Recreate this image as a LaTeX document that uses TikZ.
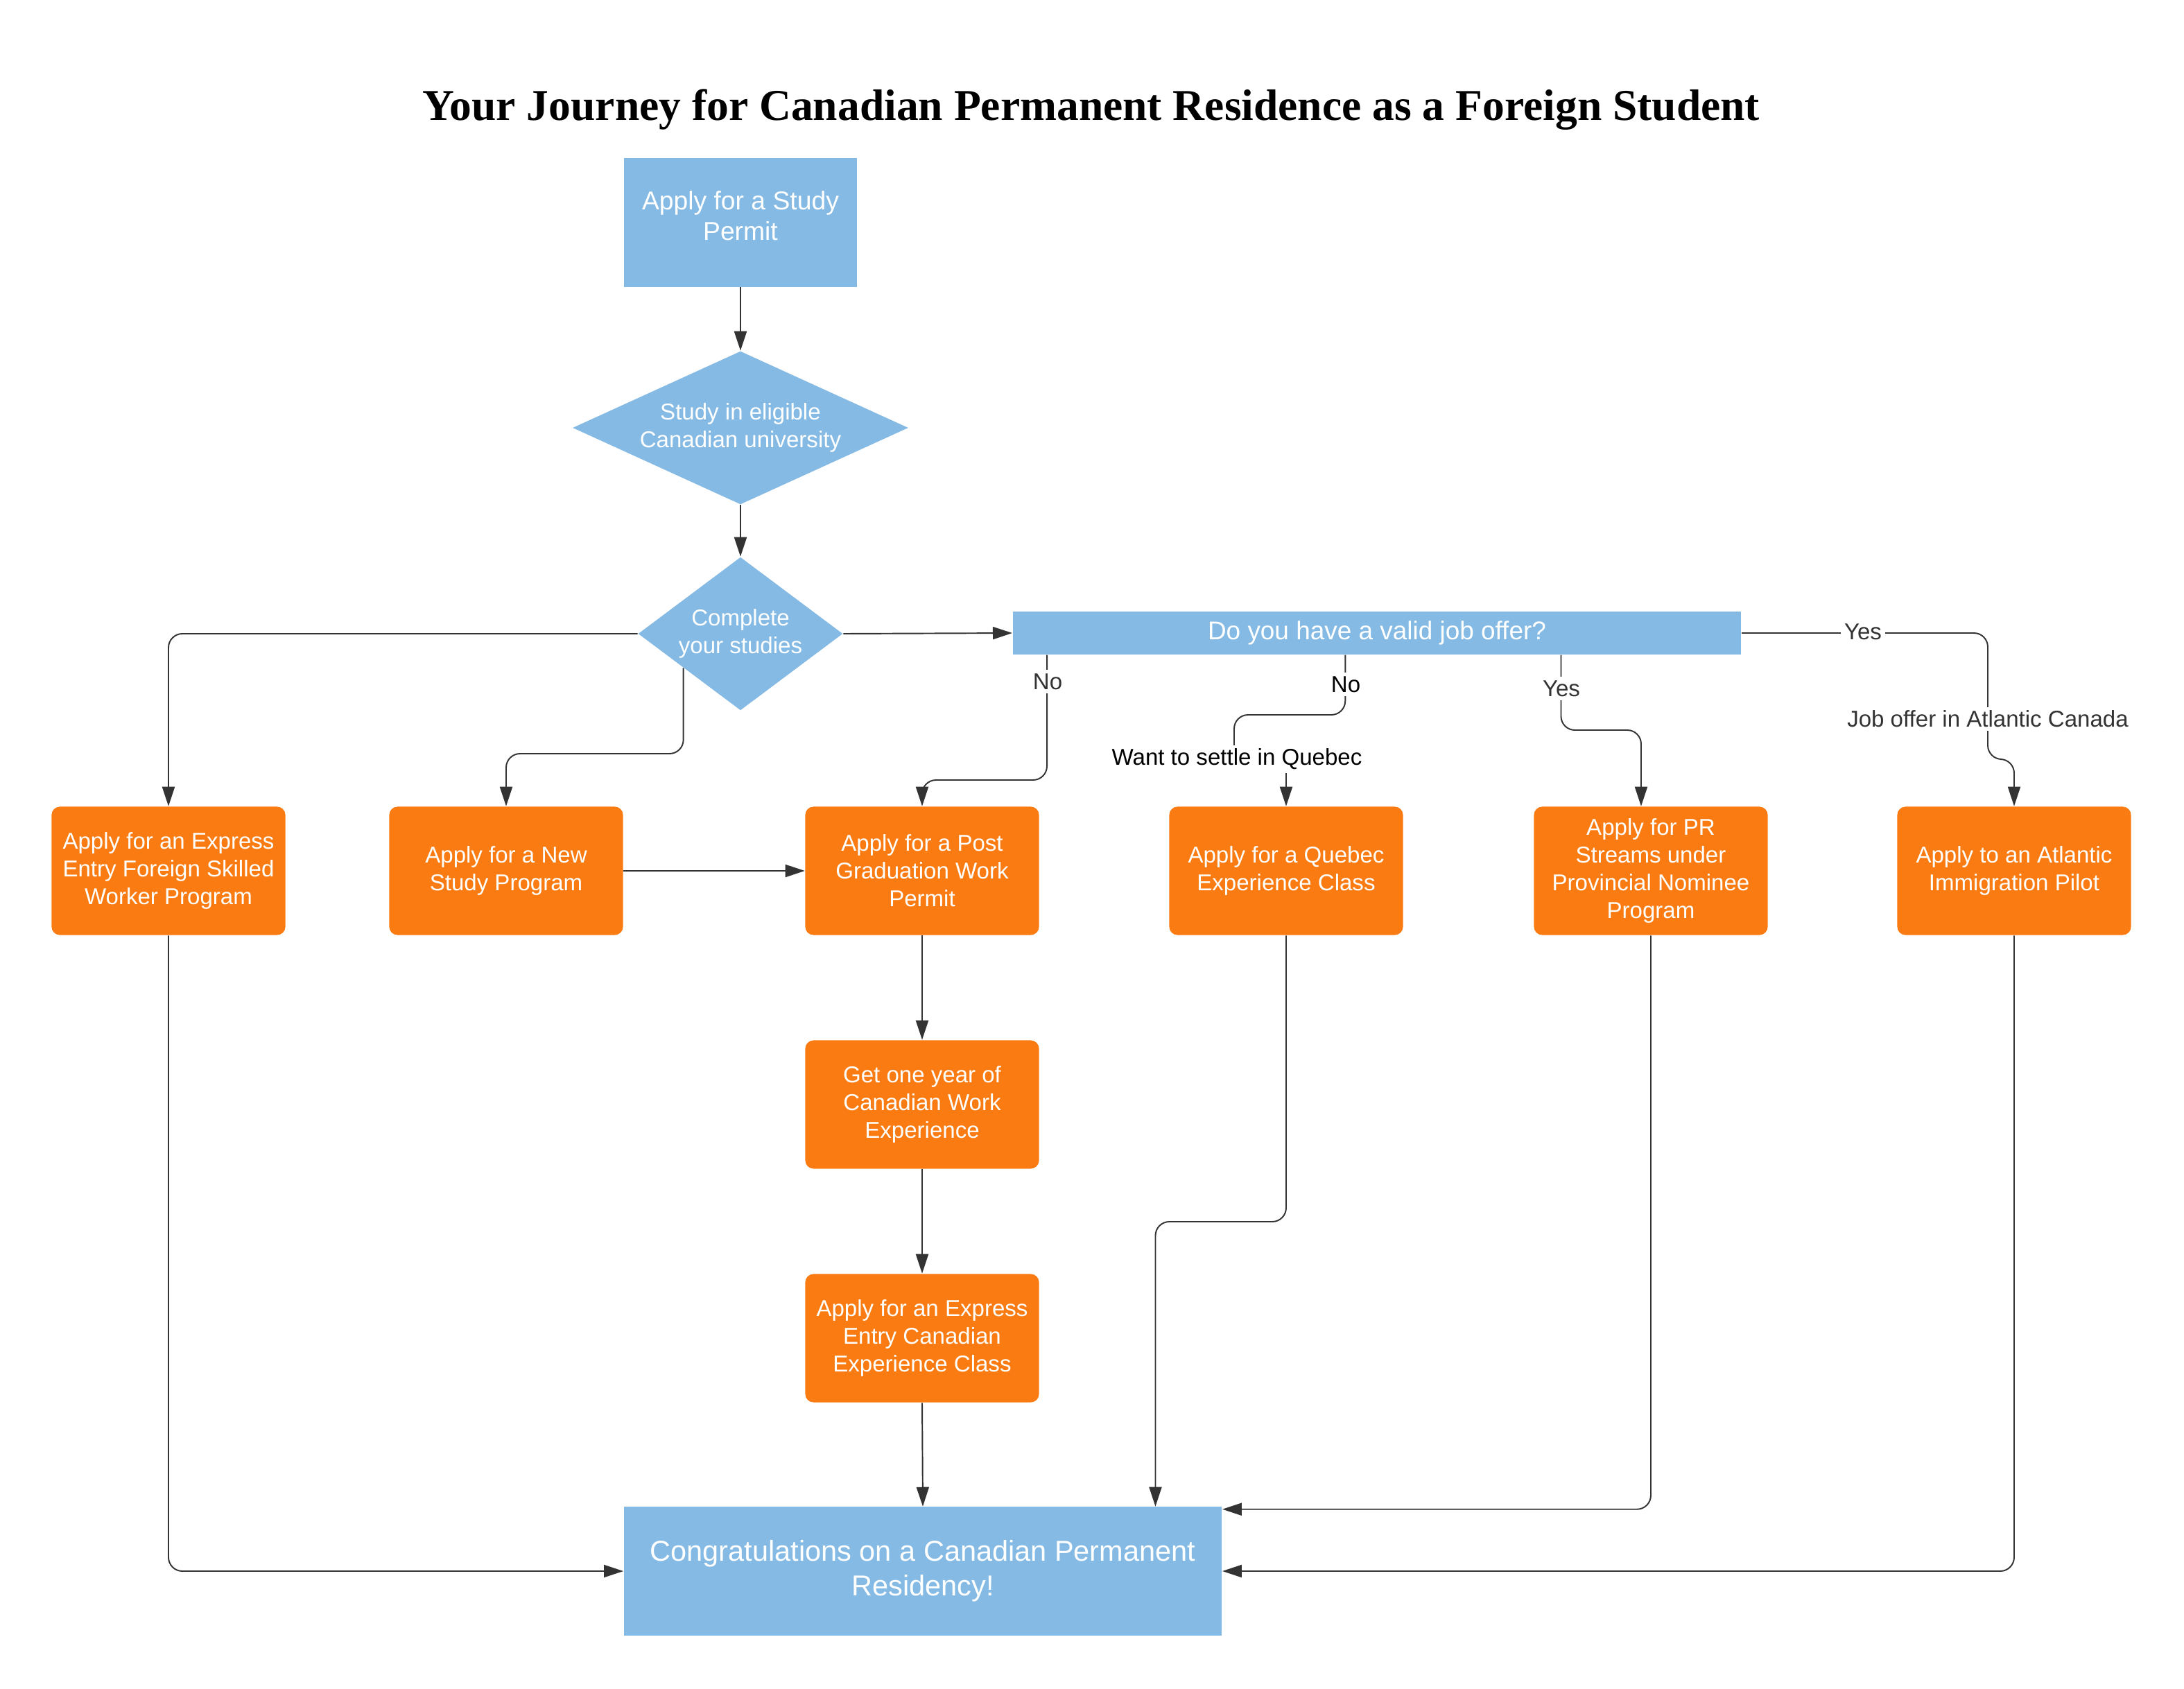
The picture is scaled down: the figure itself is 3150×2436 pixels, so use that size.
\documentclass[tikz,border=0pt]{standalone}
\usepackage{fontspec}
\usepackage{graphicx}
\setmainfont{Liberation Sans}
\newfontfamily\titlefont{Liberation Serif}
\usetikzlibrary{shapes.geometric,arrows.meta,calc}
\definecolor{lblue}{RGB}{132,186,228}
\definecolor{orng}{RGB}{249,123,18}
\definecolor{lineg}{RGB}{51,51,51}
\begin{document}
\begin{tikzpicture}[x=0.01cm,y=-0.01cm,
  bluebox/.style={rectangle, fill=lblue, text=white, inner sep=0pt, align=center},
  orgbox/.style={rectangle, rounded corners=0.12cm, fill=orng, text=white,
    minimum width=3.37cm, minimum height=1.85cm, inner sep=0pt, align=center,
    font=\fontsize{9.4}{11.4}\selectfont},
  dia/.style={diamond, fill=lblue, text=white, inner sep=0pt, align=center,
    font=\fontsize{9.4}{11.4}\selectfont},
  conn/.style={draw=lineg, line width=0.55pt, rounded corners=0.2cm,
    -{Triangle[length=0.28cm,width=0.18cm]}},
  lbl/.style={fill=white, text=lineg, inner sep=1.5pt, font=\fontsize{9.4}{11}\selectfont}
]
\fill[white] (0,0) rectangle (3150,2436);
\useasboundingbox (0,0) rectangle (3150,2436);

% title
\node[anchor=base, font=\titlefont\bfseries\fontsize{20}{24}\selectfont] (title) at (1574,173)
  {\resizebox{19.27cm}{!}{Your Journey for Canadian Permanent Residence as a Foreign Student}};

% nodes
\node[bluebox, minimum width=3.36cm, minimum height=1.85cm, font=\fontsize{10.6}{12.5}\selectfont] (sp) at (1068,321) {Apply for a Study\\Permit\\[-0.24cm]\mbox{}};
\node[dia, shape aspect=2.19, minimum width=4.84cm, minimum height=2.21cm] (d1) at (1068,617) {Study in eligible\\Canadian university};
\node[dia, shape aspect=1.335, minimum width=2.95cm, minimum height=2.21cm] (d2) at (1068,914) {Complete\\your studies};
\node[bluebox, minimum width=10.5cm, minimum height=0.62cm, font=\fontsize{10.5}{12}\selectfont] (job) at (1986,913) {Do you have a valid job offer?};

\node[orgbox] (b1) at (243,1256) {Apply for an Express\\Entry Foreign Skilled\\Worker Program};
\node[orgbox] (b2) at (730,1256) {Apply for a New\\Study Program};
\node[orgbox] (b3) at (1330,1256) {Apply for a Post\\Graduation Work\\Permit};
\node[orgbox] (b4) at (1855,1256) {Apply for a Quebec\\Experience Class};
\node[orgbox] (b5) at (2381,1256) {Apply for PR\\Streams under\\Provincial Nominee\\Program};
\node[orgbox] (b6) at (2905,1256) {Apply to an Atlantic\\Immigration Pilot};
\node[orgbox] (b7) at (1330,1593) {Get one year of\\Canadian Work\\Experience};
\node[orgbox] (b8) at (1330,1930) {Apply for an Express\\Entry Canadian\\Experience Class};
\node[bluebox, minimum width=8.62cm, minimum height=1.85cm, font=\fontsize{11.8}{14.2}\selectfont] (fin) at (1331,2266) {Congratulations on a Canadian Permanent\\Residency!};

% start points on the job-offer bar
\coordinate (s1) at ([xshift=0.5cm]job.south west);
\coordinate (s2) at ([xshift=4.8cm]job.south west);
\coordinate (s3) at ([xshift=7.91cm]job.south west);
\coordinate (s0) at (d2.211);

% connectors
\draw[conn] (sp.south) -- (d1.north);
\draw[conn] (d1.south) -- (d2.north);
\draw[conn] (d2.west) -| (b1.north);
\draw[conn] (s0) -- (s0 |- 0,1087) -| (b2.north);
\draw[conn] (d2.east) -- (job.west);
\draw[conn] (s1) -- (s1 |- 0,1125) -| (b3.north);
\draw[conn] (s2) -- (s2 |- 0,1031) -- (1780,1031) -- (1780,1095) -- (b4.north |- 0,1095) -- (b4.north);
\draw[conn] (s3) -- (s3 |- 0,1053) -| ([xshift=-0.14cm]b5.north);
\draw[conn] (job.east) -- (2867,913) -- (2867,1095) -- (b6.north |- 0,1095) -- (b6.north);
\draw[conn] (b1.south) |- (fin.west);
\draw[conn] (b2.east) -- (b3.west);
\draw[conn] (b3.south) -- (b7.north);
\draw[conn] (b7.south) -- (b8.north);
\draw[conn] (b8.south) -- (fin.north);
\draw[conn] (b4.south) -- (b4.south |- 0,1762) -| ([xshift=7.67cm]fin.north west);
\draw[conn] (b5.south) |- ([yshift=-0.04cm]fin.north east);
\draw[conn] (b6.south) |- (fin.east);

% connector labels
\node[lbl] (l1) at (1511,983) {No};
\node[lbl, text=black] (l2) at (1941,987) {No};
\node[lbl] (l3) at (2252,993) {Yes};
\node[lbl, text=black] (l4) at (1784,1095) {Want to settle in Quebec};
\node[lbl] (l5) at (2687,911) {Yes};
\node[lbl] (l6) at (2867,1037) {Job offer in Atlantic Canada};
\end{tikzpicture}
\end{document}
